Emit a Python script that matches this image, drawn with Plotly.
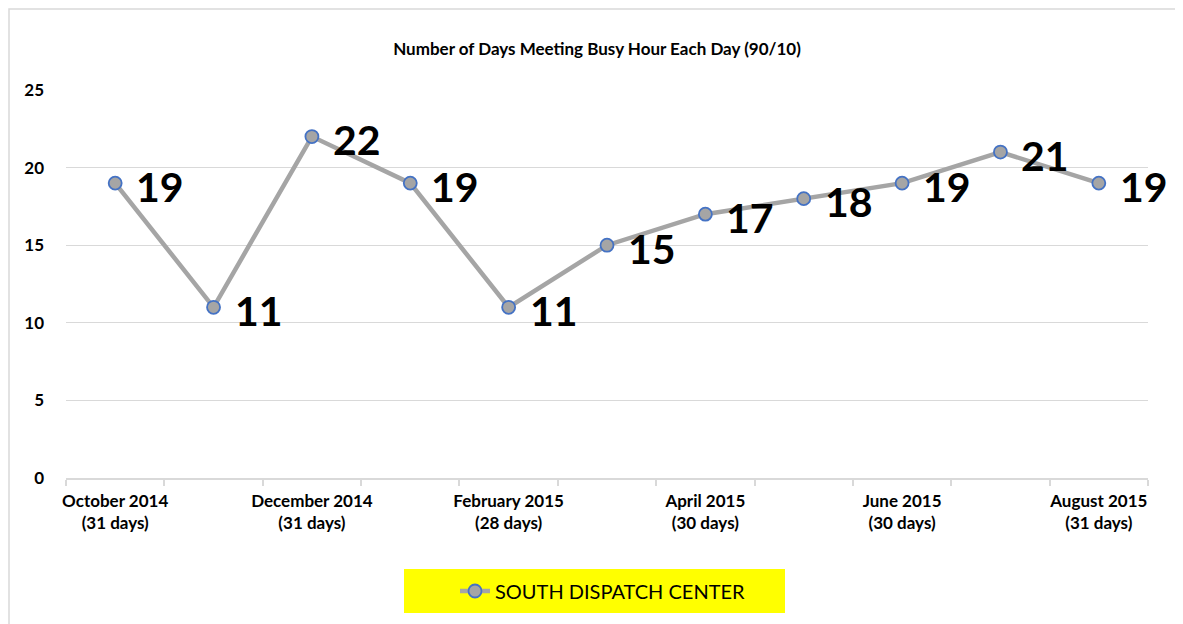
import plotly.graph_objects as go

months = ["October 2014", "November 2014", "December 2014", "January 2015",
          "February 2015", "March 2015", "April 2015", "May 2015",
          "June 2015", "July 2015", "August 2015"]
days = [31, 30, 31, 31, 28, 31, 30, 31, 30, 31, 31]
values = [19, 11, 22, 19, 11, 15, 17, 18, 19, 21, 19]
series_name = "SOUTH DISPATCH CENTER"
title = "Number of Days Meeting Busy Hour Each Day (90/10)"

OFF = 8  # page body margin
W, H = 1183 - OFF, 624 - OFF
# plot area in page pixels: x 66..1148, y 90..478
L, T = 66 - OFF, 90 - OFF
R = W - (1148 - OFF)
B = H - (478 - OFF)
pw, ph = W - L - R, H - T - B

def px_x(px):  # page px -> paper x
    return (px - OFF - L) / pw

def px_y(py):  # page px -> paper y
    return (H - B - (py - OFF)) / ph

idx = list(range(len(months)))
labels = [f"{m}<br>({d} days)" for m, d in zip(months, days)]

fig = go.Figure()
fig.add_trace(go.Scatter(
    x=idx, y=values, mode="lines+markers", name=series_name,
    line=dict(color="#A5A5A5", width=4.5),
    marker=dict(size=13, color="#A5A5A5", line=dict(color="#4472C4", width=1.8)),
    hoverinfo="skip",
))

for i, v in zip(idx, values):
    fig.add_annotation(x=i, y=v, text=str(v), showarrow=False,
                       xanchor="left", yanchor="middle", xshift=19, yshift=-3,
                       font=dict(family="Lato", size=41, color="#000000", weight="bold"))

# outer border (left/top) and legend box
fig.add_shape(type="rect", xref="paper", yref="paper",
              x0=px_x(OFF + 1), x1=px_x(1200), y0=px_y(700), y1=px_y(OFF + 1),
              line=dict(color="#D9D9D9", width=1.5), fillcolor="rgba(0,0,0,0)", layer="below")
fig.add_shape(type="rect", xref="paper", yref="paper",
              x0=px_x(404), x1=px_x(785), y0=px_y(613), y1=px_y(569),
              line=dict(width=0), fillcolor="#FFFF00", layer="below")

fig.update_layout(
    width=W, height=H,
    margin=dict(l=L, r=R, t=T, b=B),
    paper_bgcolor="white", plot_bgcolor="white",
    font=dict(family="Lato", color="#000000"),
    title=dict(text=f"<b>{title}</b>", x=(597 - OFF) / W, xanchor="center",
               y=1 - (49 - OFF) / H, yanchor="middle",
               font=dict(family="Lato", size=17, color="#000000")),
    showlegend=True,
    legend=dict(orientation="h", x=px_x(455), xanchor="left",
                y=px_y(591), yanchor="middle", bgcolor="rgba(0,0,0,0)",
                font=dict(family="Lato", size=20, color="#000000"),
                itemclick=False, itemdoubleclick=False),
    xaxis=dict(
        range=[-0.5, len(months) - 0.5],
        tickmode="array", tickvals=idx[::2],
        ticktext=[f"<b>{t}</b>" for t in labels[::2]],
        tickfont=dict(family="Lato", size=17, color="#000000"),
        ticks="", showgrid=False, zeroline=False, ticklabelstandoff=7,
        showline=True, linecolor="#D9D9D9", linewidth=1.5,
        minor=dict(tickmode="array",
                   tickvals=[i - 0.5 for i in idx] + [idx[-1] + 0.5],
                   ticks="outside", ticklen=6, tickcolor="#D9D9D9",
                   tickwidth=1.5, showgrid=False),
        fixedrange=True,
    ),
    yaxis=dict(
        range=[0, 25], tickmode="linear", tick0=0, dtick=5,
        tickfont=dict(family="Lato", size=17, color="#000000", weight="bold"),
        showgrid=True, gridcolor="#D9D9D9", gridwidth=1,
        zeroline=False, showline=False, ticks="", ticklabelstandoff=21,
        fixedrange=True,
    ),
)

fig.write_html("out.html")
